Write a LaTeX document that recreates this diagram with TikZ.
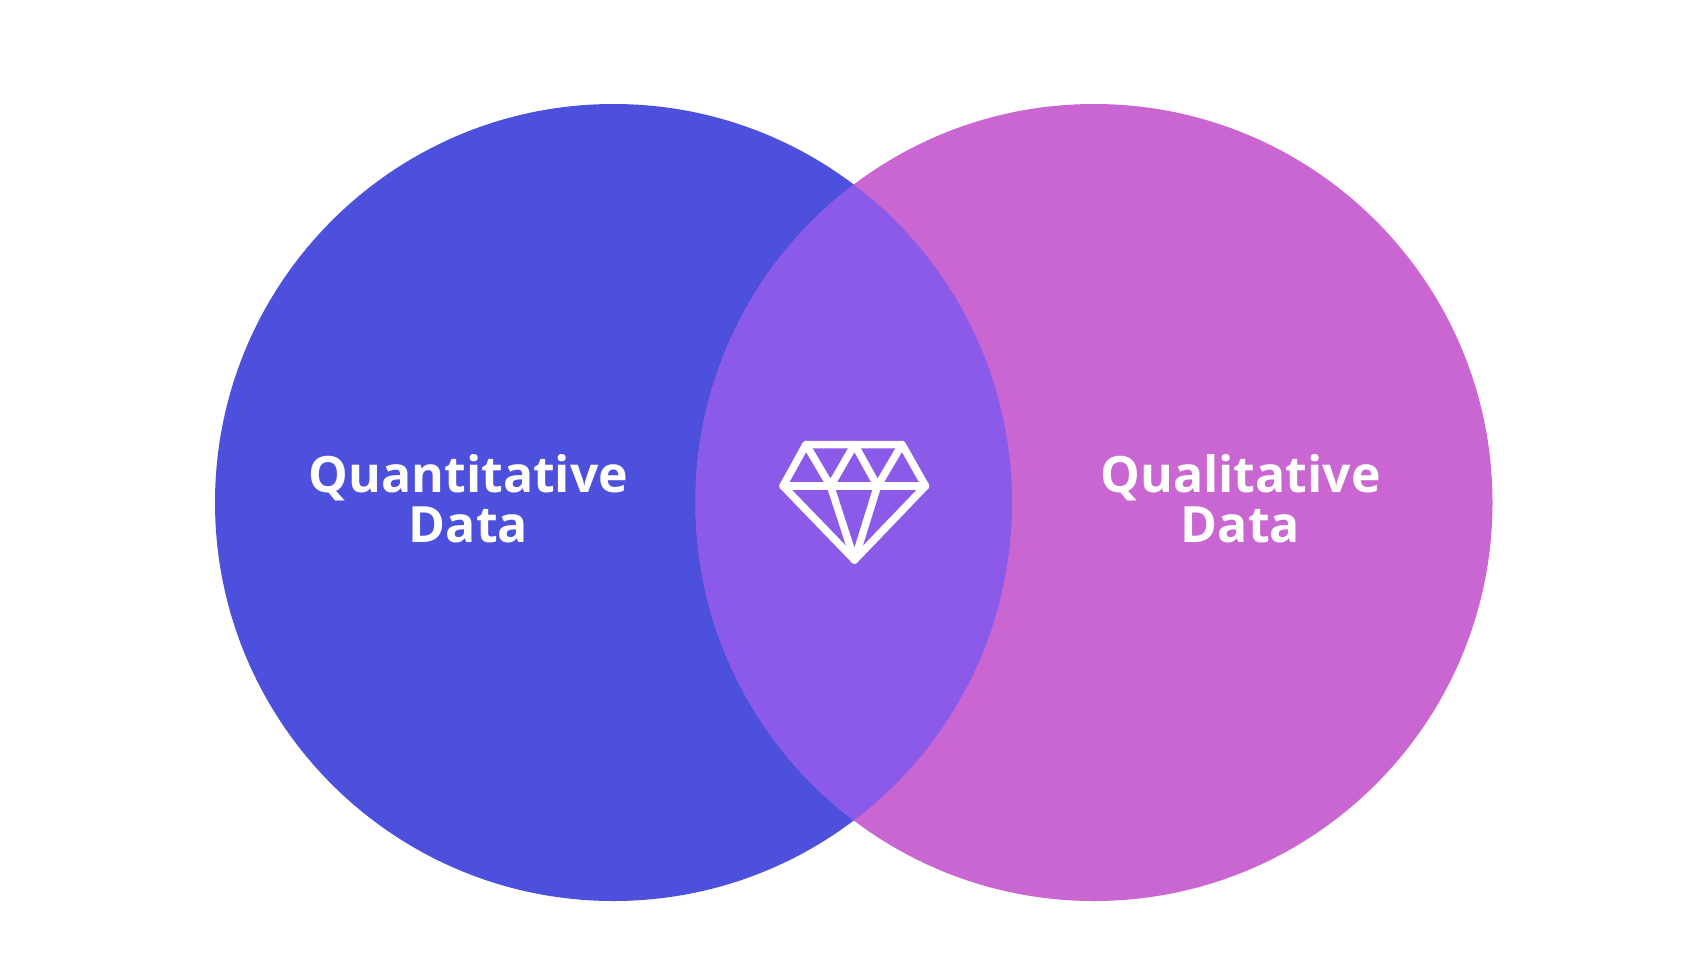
\documentclass[tikz,border=0pt]{standalone}
\usepackage{fontspec}
\setmainfont{Open Sans}
\definecolor{quantblue}{HTML}{4D50DC}
\definecolor{qualpink}{HTML}{C966D1}
\definecolor{overlapviolet}{HTML}{8B5AE8}
\tikzset{
  datalabel/.style={text=white,font=\fontsize{50}{50}\selectfont\bfseries,align=center,inner sep=0pt},
  gemline/.style={draw=white,line width=7.5pt,line cap=round,line join=round},
}

\begin{document}
\begin{tikzpicture}[x=1pt,y=-1pt]
\useasboundingbox (0,0) rectangle (1702,970);
\fill[quantblue] (613.5,502.5) circle[radius=398.5];
\fill[qualpink] (1094,502.5) circle[radius=398.5];
\begin{scope}
  \clip (613.5,502.5) circle[radius=398.5];
  \fill[overlapviolet] (1094,502.5) circle[radius=398.5];
\end{scope}
\node[datalabel] (quant) at (468.5,499) {Quantitative\\Data};
\node[datalabel] (qual) at (1240.5,499) {Qualitative\\Data};
\coordinate (topleft) at (806,444.5);
\coordinate (topmid) at (854.5,444.5);
\coordinate (topright) at (902,444.5);
\coordinate (beltleft) at (783,486);
\coordinate (beltright) at (925.5,486);
\coordinate (valleyleft) at (830.5,486);
\coordinate (valleyright) at (877.5,486);
\coordinate (tip) at (854.5,560);
\draw[gemline] (topleft) -- (topright) -- (beltright) -- (tip) -- (beltleft) -- cycle;
\draw[gemline] (beltleft) -- (beltright);
\draw[gemline] (topleft) -- (valleyleft) -- (topmid) -- (valleyright) -- (topright);
\foreach \k in {valleyleft,valleyright} {
  \draw[gemline] (\k) -- (tip);
}
\end{tikzpicture}
\end{document}
